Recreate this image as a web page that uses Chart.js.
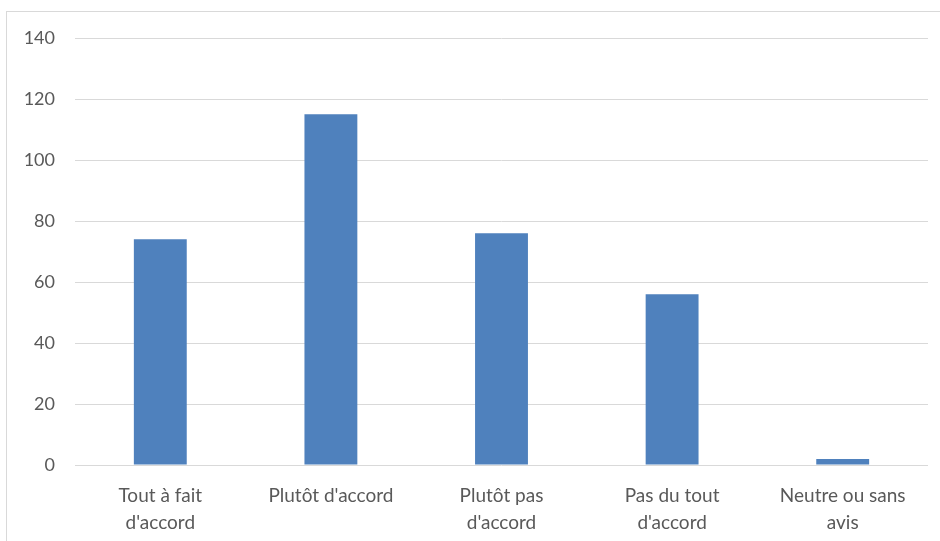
<!DOCTYPE html>
<html>
<head>
<meta charset="utf-8">
<script src="https://cdn.jsdelivr.net/npm/chart.js@4"></script>
<style>
  html, body { margin: 0; padding: 0; background: #fff; }
  #wrap { position: relative; width: 940px; height: 541px; }
  #frame { position: absolute; left: 6px; top: 11px; width: 960px; height: 560px; border: 1px solid #d9d9d9; box-sizing: border-box; }
  canvas { position: absolute; left: 0; top: 0; }
</style>
</head>
<body>
<div id="wrap">
  <div id="frame"></div>
  <canvas id="chart" width="940" height="541"></canvas>
</div>
<script>
// catégories et valeurs
const categories = [
  ['Tout à fait', "d'accord"],
  ["Plutôt d'accord"],
  ['Plutôt pas', "d'accord"],
  ['Pas du tout', "d'accord"],
  ['Neutre ou sans', 'avis']
];
const values = [74, 115, 76, 56, 2];
const yTicks = [0, 20, 40, 60, 80, 100, 120, 140];

const ctx = document.getElementById('chart').getContext('2d');

new Chart(ctx, {
  type: 'bar',
  data: {
    labels: categories,
    datasets: [{
      data: values,
      backgroundColor: '#4f81bd',
      borderWidth: 0,
      barPercentage: 0.31,
      categoryPercentage: 1
    }]
  },
  options: {
    responsive: false,
    animation: false,
    layout: { padding: { top: 38, right: 12, left: 0, bottom: 0 } },
    plugins: { legend: { display: false }, tooltip: { enabled: false } },
    scales: {
      x: {
        grid: { display: false },
        border: { display: false },
        ticks: {
          color: '#595959',
          font: { family: 'Lato', size: 19, lineHeight: 1.42 },
          maxRotation: 0,
          padding: 9
        },
        afterFit: (scale) => { scale.height = 76; }
      },
      y: {
        min: 0,
        max: 140,
        afterBuildTicks: (scale) => { scale.ticks = yTicks.map(v => ({ value: v })); },
        grid: { color: '#d9d9d9', lineWidth: 1, drawTicks: false },
        border: { display: false },
        ticks: {
          color: '#595959',
          font: { family: 'Lato', size: 18 },
          padding: 20
        },
        afterFit: (scale) => { scale.width = 75; }
      }
    }
  }
});
</script>
</body>
</html>
